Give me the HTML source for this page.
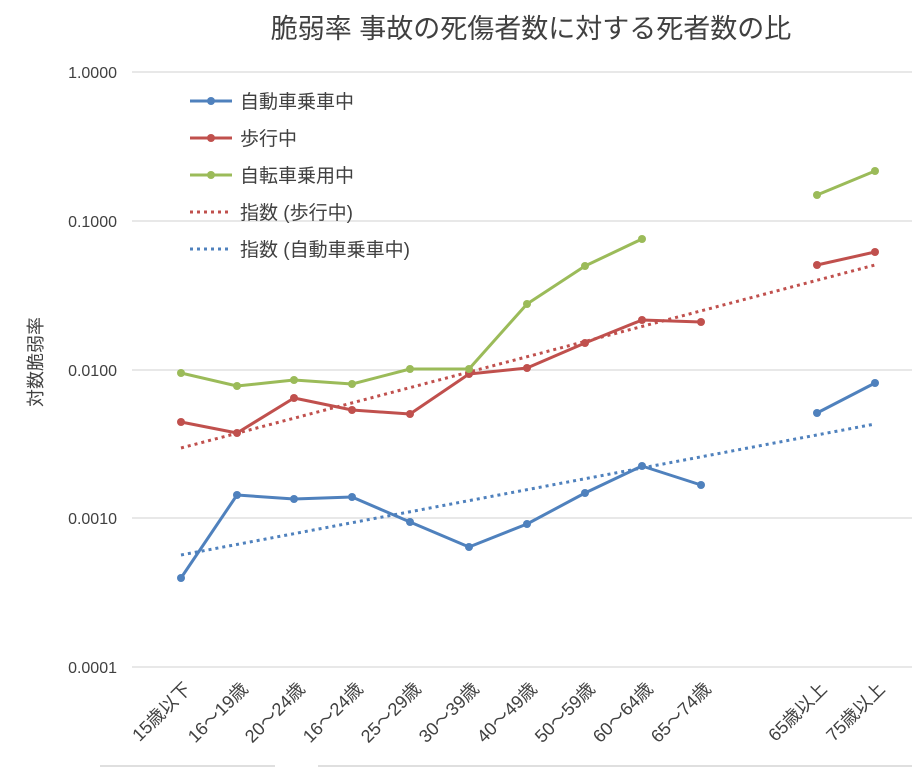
<!DOCTYPE html>
<html><head><meta charset="utf-8"><style>
body{margin:0;background:#fff}
svg text{font-family:"Liberation Sans","Noto Sans CJK JP",sans-serif}
</style></head><body>
<svg width="919" height="768" xmlns="http://www.w3.org/2000/svg">
<rect width="919" height="768" fill="#fff"/>
<text x="531" y="38" font-size="27" text-anchor="middle" fill="#404040">脆弱率  事故の死傷者数に対する死者数の比</text>
<g stroke="#d9d9d9" stroke-width="1.3">
<line x1="132" y1="72" x2="912" y2="72"/><line x1="132" y1="221" x2="912" y2="221"/>
<line x1="132" y1="370" x2="912" y2="370"/><line x1="132" y1="518" x2="912" y2="518"/>
<line x1="132" y1="667" x2="912" y2="667"/>
</g>
<g font-size="16" fill="#404040" text-anchor="end">
<text x="117" y="78">1.0000</text><text x="117" y="227">0.1000</text>
<text x="117" y="376">0.0100</text><text x="117" y="524">0.0010</text><text x="117" y="673">0.0001</text>
</g>
<text transform="translate(42,362) rotate(-90)" font-size="18" text-anchor="middle" fill="#404040">対数脆弱率</text>
<g font-size="18" fill="#404040" text-anchor="end">
<text transform="translate(192,690) rotate(-45)">15歳以下</text>
<text transform="translate(249,690) rotate(-45)">16～19歳</text>
<text transform="translate(306,690) rotate(-45)">20～24歳</text>
<text transform="translate(364,690) rotate(-45)">16～24歳</text>
<text transform="translate(422,690) rotate(-45)">25～29歳</text>
<text transform="translate(480,690) rotate(-45)">30～39歳</text>
<text transform="translate(538,690) rotate(-45)">40～49歳</text>
<text transform="translate(596,690) rotate(-45)">50～59歳</text>
<text transform="translate(654,690) rotate(-45)">60～64歳</text>
<text transform="translate(712,690) rotate(-45)">65～74歳</text>
<text transform="translate(828,690) rotate(-45)">65歳以上</text>
<text transform="translate(886,690) rotate(-45)">75歳以上</text>
</g>
<line x1="181" y1="448" x2="875" y2="265" stroke="#c0504d" stroke-width="3" stroke-dasharray="3,4"/>
<line x1="181" y1="555" x2="875" y2="424" stroke="#4f81bd" stroke-width="3" stroke-dasharray="3,4"/>
<g fill="none" stroke-width="3" stroke-linejoin="round">
<polyline stroke="#4f81bd" points="181,578 237,495 294,499 352,497 410,522 469,547 527,524 585,493 642,466 701,485"/>
<polyline stroke="#4f81bd" points="817,413 875,383"/>
<polyline stroke="#c0504d" points="181,422 237,433 294,398 352,410 410,414 469,374 527,368 585,343 642,320 701,322"/>
<polyline stroke="#c0504d" points="817,265 875,252"/>
<polyline stroke="#9bbb59" points="181,373 237,386 294,380 352,384 410,369 469,369 527,304 585,266 642,239"/>
<polyline stroke="#9bbb59" points="817,195 875,171"/>
</g>
<g fill="#4f81bd"><circle cx="181" cy="578" r="4"/><circle cx="237" cy="495" r="4"/><circle cx="294" cy="499" r="4"/><circle cx="352" cy="497" r="4"/><circle cx="410" cy="522" r="4"/><circle cx="469" cy="547" r="4"/><circle cx="527" cy="524" r="4"/><circle cx="585" cy="493" r="4"/><circle cx="642" cy="466" r="4"/><circle cx="701" cy="485" r="4"/><circle cx="817" cy="413" r="4"/><circle cx="875" cy="383" r="4"/></g>
<g fill="#c0504d"><circle cx="181" cy="422" r="4"/><circle cx="237" cy="433" r="4"/><circle cx="294" cy="398" r="4"/><circle cx="352" cy="410" r="4"/><circle cx="410" cy="414" r="4"/><circle cx="469" cy="374" r="4"/><circle cx="527" cy="368" r="4"/><circle cx="585" cy="343" r="4"/><circle cx="642" cy="320" r="4"/><circle cx="701" cy="322" r="4"/><circle cx="817" cy="265" r="4"/><circle cx="875" cy="252" r="4"/></g>
<g fill="#9bbb59"><circle cx="181" cy="373" r="4"/><circle cx="237" cy="386" r="4"/><circle cx="294" cy="380" r="4"/><circle cx="352" cy="384" r="4"/><circle cx="410" cy="369" r="4"/><circle cx="469" cy="369" r="4"/><circle cx="527" cy="304" r="4"/><circle cx="585" cy="266" r="4"/><circle cx="642" cy="239" r="4"/><circle cx="817" cy="195" r="4"/><circle cx="875" cy="171" r="4"/></g>
<g stroke-width="3">
<line x1="190" y1="101" x2="232" y2="101" stroke="#4f81bd"/><circle cx="211" cy="101" r="4" fill="#4f81bd"/>
<line x1="190" y1="138" x2="232" y2="138" stroke="#c0504d"/><circle cx="211" cy="138" r="4" fill="#c0504d"/>
<line x1="190" y1="175" x2="232" y2="175" stroke="#9bbb59"/><circle cx="211" cy="175" r="4" fill="#9bbb59"/>
<line x1="190" y1="212" x2="232" y2="212" stroke="#c0504d" stroke-dasharray="3,4"/>
<line x1="190" y1="249" x2="232" y2="249" stroke="#4f81bd" stroke-dasharray="3,4"/>
</g>
<g font-size="19" fill="#404040">
<text x="240" y="108">自動車乗車中</text><text x="240" y="145">歩行中</text>
<text x="240" y="182">自転車乗用中</text><text x="240" y="219">指数 (歩行中)</text>
<text x="240" y="256">指数 (自動車乗車中)</text>
</g>
<g stroke="#bfbfbf" stroke-width="1"><line x1="100" y1="766" x2="275" y2="766"/><line x1="318" y1="766" x2="912" y2="766"/></g>
</svg>
</body></html>
